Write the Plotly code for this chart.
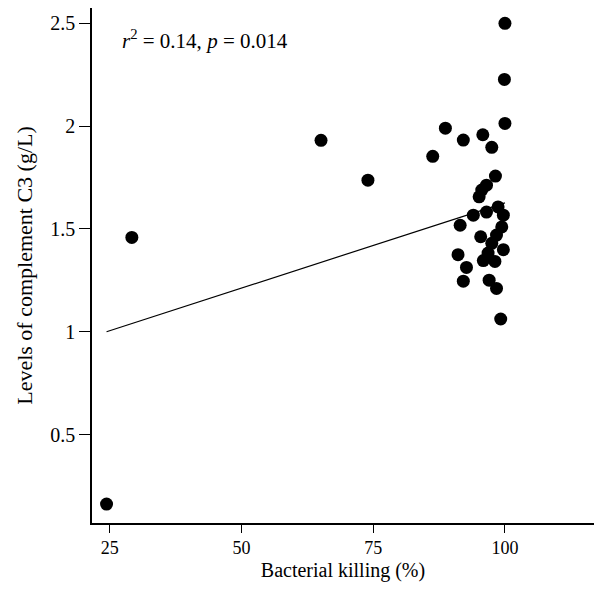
import plotly.graph_objects as go

# Bacterial killing (%) vs complement C3 (g/L)
killing = [24.4, 29.2, 65.1, 74.0, 86.3, 88.7, 92.1, 95.8, 97.5, 100.0, 100.0, 99.9,
           98.2, 96.5, 95.6, 95.1, 94.0, 91.5, 96.5, 98.7, 99.7, 99.4, 98.4, 95.4,
           97.5, 99.7, 96.8, 91.1, 95.9, 98.1, 92.7, 92.1, 97.0, 98.4, 99.2]
c3 = [0.162, 1.459, 1.931, 1.737, 1.853, 1.990, 1.932, 1.958, 1.897, 2.013, 2.500, 2.227,
      1.757, 1.713, 1.689, 1.656, 1.567, 1.518, 1.582, 1.607, 1.567, 1.510, 1.470, 1.462,
      1.430, 1.399, 1.383, 1.375, 1.346, 1.342, 1.313, 1.246, 1.251, 1.211, 1.062]

# Fitted regression line end points
fit_x = [24.4, 100.0]
fit_y = [1.0, 1.627]

x_ticks = [25, 50, 75, 100]
y_ticks = [0.5, 1, 1.5, 2, 2.5]
y_tick_labels = ["0.5", "1", "1.5", "2", "2.5"]

FONT = "Liberation Serif"

fig = go.Figure()
fig.add_trace(go.Scatter(x=fit_x, y=fit_y, mode="lines",
                         line=dict(color="black", width=1.2), showlegend=False,
                         hoverinfo="skip"))
fig.add_trace(go.Scatter(x=killing, y=c3, mode="markers",
                         marker=dict(color="black", size=13, line=dict(width=0)),
                         showlegend=False))

fig.update_layout(
    width=586, height=574,
    margin=dict(l=84, r=0, t=0, b=59, autoexpand=False),
    paper_bgcolor="white", plot_bgcolor="white",
    font=dict(family=FONT, size=20, color="black"),
    xaxis=dict(range=[21.64, 116.9], tickvals=x_ticks, ticks="outside", ticklen=8,
               tickwidth=1, tickcolor="black", showline=True, linecolor="black",
               linewidth=1.5, mirror=True, showgrid=False, zeroline=False,
               automargin=False,
               title=dict(text="Bacterial killing (%)", standoff=10, font=dict(size=20)),
               tickfont=dict(size=18)),
    yaxis=dict(range=[0.070, 2.5745], tickvals=y_ticks, ticktext=y_tick_labels,
               ticks="outside", ticklen=11, tickwidth=1, tickcolor="black",
               showline=True, linecolor="black", linewidth=1.5, mirror=False,
               showgrid=False, zeroline=False, automargin=False,
               title=dict(text="Levels of complement C3 (g/L)", standoff=12,
                          font=dict(size=22)),
               tickfont=dict(size=20)),
    annotations=[dict(text="<i>r</i><sup>2</sup> = 0.14, <i>p</i> = 0.014",
                      xref="paper", yref="paper", x=0.055, y=0.938,
                      xanchor="left", yanchor="middle", showarrow=False,
                      font=dict(family=FONT, size=21))],
)

fig.write_html("out.html")
